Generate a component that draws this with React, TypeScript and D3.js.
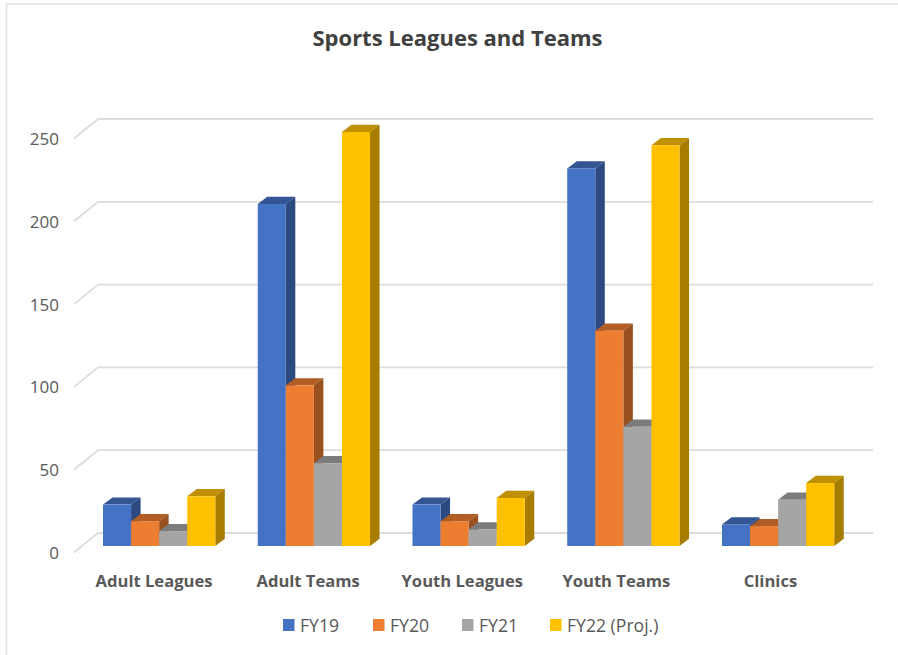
import React from "react";
import * as d3 from "d3";

const categories = ["Adult Leagues", "Adult Teams", "Youth Leagues", "Youth Teams", "Clinics"];
const seriesNames = ["FY19", "FY20", "FY21", "FY22 (Proj.)"];
const fy19 = [25, 206.5, 25, 228, 13];
const fy20 = [15, 97, 15, 130, 12];
const fy21 = [9, 50, 10, 72, 28];
const fy22 = [30, 250, 29, 242, 38];
const yTicks = [0, 50, 100, 150, 200, 250];
const allSeries = [fy19, fy20, fy21, fy22];

const fronts = ["#4472c4", "#ed7d31", "#a5a5a5", "#ffc000"];
const tops = ["#335593", "#b15d24", "#7c7c7c", "#bf9000"];
const sides = ["#2c4a80", "#9a5120", "#6c6c6c", "#a67d00"];
const legendX = [283, 373, 462, 550];

const W = 898, H = 655;
const dx = 9.5, dy = 7.2;
const y = d3.scaleLinear().domain([0, 250]).range([546, 132]);
const band = d3.scaleBand<string>().domain(categories).range([81.7, 855.4]).padding(0);
const inner = d3.scaleBand<number>().domain(d3.range(4)).range([21.3, 133.6]).padding(0);
const labelBand = d3.scaleBand<string>().domain(categories).range([77, 847.5]).padding(0);
const FONT = "'Open Sans', sans-serif";
const poly = (p: [number, number][]) => p.map((q) => q.join(",")).join(" ");

export default function App() {
  return (
    <svg width={W} height={H} style={{ position: "absolute", left: 0, top: 0, background: "#fff" }}>
      <path d={`M6.5 ${H}V4H${W}`} fill="none" stroke="#e0e0e0" strokeWidth={1.5} />
      <text x={457.5} y={46} textAnchor="middle" fontFamily={FONT} fontWeight={700} fontSize={22} fill="#404040">
        Sports Leagues and Teams
      </text>
      {yTicks.map((t) => {
        const fy = y(t);
        return (
          <g key={t}>
            <polyline points={poly([[74, fy + 6.5], [98, fy - 13], [873, fy - 13]])} fill="none" stroke="#dcdcdc" strokeWidth={1.8} />
            <text x={59} y={fy + 13} textAnchor="end" fontFamily={FONT} fontSize={17} fill="#595959">{t}</text>
          </g>
        );
      })}
      {categories.map((c, i) => (
        <g key={c}>
          {allSeries.map((s, k) => {
            const x0 = band(c)! + inner(k)!;
            const x1 = x0 + inner.bandwidth();
            const yT = y(s[i]);
            const yB = y(0);
            return (
              <g key={k}>
                <polygon points={poly([[x0, yT], [x0 + dx, yT - dy], [x1 + dx, yT - dy], [x1, yT]])} fill={tops[k]} />
                <polygon points={poly([[x1, yT], [x1 + dx, yT - dy], [x1 + dx, yB - dy], [x1, yB]])} fill={sides[k]} />
                <rect x={x0} y={yT} width={x1 - x0} height={yB - yT} fill={fronts[k]} />
              </g>
            );
          })}
          <text x={labelBand(c)! + labelBand.bandwidth() / 2} y={587} textAnchor="middle" fontFamily={FONT} fontWeight={700} fontSize={16.6} fill="#595959">{c}</text>
        </g>
      ))}
      {seriesNames.map((n, k) => (
        <g key={n}>
          <rect x={legendX[k]} y={619} width={11.5} height={12} fill={fronts[k]} />
          <text x={legendX[k] + 17} y={632} fontFamily={FONT} fontSize={17.6} fill="#595959">{n}</text>
        </g>
      ))}
    </svg>
  );
}
